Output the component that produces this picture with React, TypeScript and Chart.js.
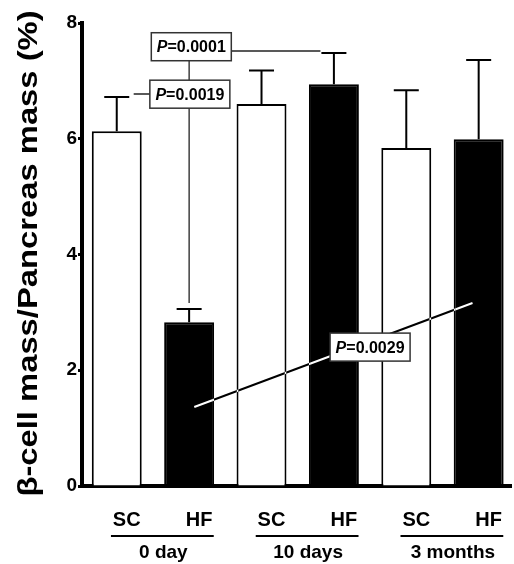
import React, { useEffect, useRef } from 'react';
import { Chart, registerables } from 'chart.js';

Chart.register(...registerables);

const groupLabels = ['0 day', '10 days', '3 months'];
const dietLabels = ['SC', 'HF', 'SC', 'HF', 'SC', 'HF'];
const massMeans = [6.13, 2.83, 6.6, 6.94, 5.84, 5.99];
const massSems = [0.59, 0.23, 0.58, 0.54, 1.0, 1.37];
const barFills = ['#ffffff', '#000000', '#ffffff', '#000000', '#ffffff', '#000000'];
const yTickValues = [0, 2, 4, 6, 8];
const yTitle = 'β-cell mass/Pancreas mass (%)';

// P-value boxes (x: bar index units, y: % units)
const pLabels = ['0.0001', '0.0019', '0.0029'];
const pBoxX = [1.03, 1.01, 3.5];
const pBoxY = [7.59, 6.77, 2.4];
// thin connector lines from boxes to bars
const linkX1 = [1.03, 1.0, 1.01];
const linkY1 = [7.516, 7.59, 6.773];
const linkX2 = [2.814, 1.0, 0.234];
const linkY2 = [7.516, 3.162, 6.773];
// trend line through the third box
const trendX = [1.071, 4.915];
const trendY = [1.365, 3.162];

const FONT = '"Liberation Sans", Arial, Helvetica, sans-serif';

const customPlugin = {
  id: 'customDraw',
  beforeDraw(chart: any) {
    const ctx = chart.ctx;
    ctx.save();
    ctx.fillStyle = '#ffffff';
    ctx.fillRect(0, 0, chart.width, chart.height);
    ctx.restore();
  },
  afterDatasetsDraw(chart: any) {
    const ctx = chart.ctx;
    const x = chart.scales.x;
    const y = chart.scales.y;
    ctx.save();
    // error bars
    ctx.strokeStyle = '#000';
    ctx.lineWidth = 2;
    massMeans.forEach((m, i) => {
      const px = x.getPixelForValue(i);
      const base = y.getPixelForValue(m);
      const top = y.getPixelForValue(m + massSems[i]);
      ctx.beginPath();
      ctx.moveTo(px, base);
      ctx.lineTo(px, top);
      ctx.moveTo(px - 12.5, top);
      ctx.lineTo(px + 12.5, top);
      ctx.stroke();
    });
    // connectors
    ctx.strokeStyle = '#222';
    ctx.lineWidth = 1.3;
    linkX1.forEach((_, i) => {
      ctx.beginPath();
      ctx.moveTo(x.getPixelForValue(linkX1[i]), y.getPixelForValue(linkY1[i]));
      ctx.lineTo(x.getPixelForValue(linkX2[i]), y.getPixelForValue(linkY2[i]));
      ctx.stroke();
    });
    // trend line (inverts over black bars)
    ctx.globalCompositeOperation = 'difference';
    ctx.strokeStyle = '#ffffff';
    ctx.lineWidth = 2;
    ctx.beginPath();
    ctx.moveTo(x.getPixelForValue(trendX[0]), y.getPixelForValue(trendY[0]));
    ctx.lineTo(x.getPixelForValue(trendX[1]), y.getPixelForValue(trendY[1]));
    ctx.stroke();
    ctx.globalCompositeOperation = 'source-over';
    // boxes
    pLabels.forEach((lab, i) => {
      const cx = x.getPixelForValue(pBoxX[i]);
      const cy = y.getPixelForValue(pBoxY[i]);
      ctx.fillStyle = '#fff';
      ctx.fillRect(cx - 40, cy - 14, 80, 28);
      ctx.strokeStyle = '#333';
      ctx.lineWidth = 1.5;
      ctx.strokeRect(cx - 40, cy - 14, 80, 28);
      ctx.fillStyle = '#000';
      ctx.textBaseline = 'middle';
      ctx.textAlign = 'left';
      ctx.font = `italic bold 16px ${FONT}`;
      const wP = ctx.measureText('P').width;
      ctx.font = `bold 16px ${FONT}`;
      const rest = '=' + lab;
      const wR = ctx.measureText(rest).width;
      const sx = cx - (wP + wR) / 2;
      ctx.font = `italic bold 16px ${FONT}`;
      ctx.fillText('P', sx, cy + 1);
      ctx.font = `bold 16px ${FONT}`;
      ctx.fillText(rest, sx + wP, cy + 1);
    });
    ctx.restore();
  },
  afterDraw(chart: any) {
    const ctx = chart.ctx;
    const x = chart.scales.x;
    const area = chart.chartArea;
    ctx.save();
    // group underlines and labels
    ctx.strokeStyle = '#000';
    ctx.lineWidth = 2;
    ctx.fillStyle = '#000';
    ctx.font = `bold 19px ${FONT}`;
    ctx.textAlign = 'center';
    ctx.textBaseline = 'middle';
    groupLabels.forEach((g, k) => {
      const xa = x.getPixelForValue(2 * k - 0.08);
      const xb = x.getPixelForValue(2 * k + 1 + 0.34);
      const ly = area.bottom + 50;
      ctx.beginPath();
      ctx.moveTo(xa, ly);
      ctx.lineTo(xb, ly);
      ctx.stroke();
      ctx.fillText(g, (xa + xb) / 2 + 1, area.bottom + 67);
    });
    // y-axis title
    ctx.font = `bold 28px ${FONT}`;
    ctx.textAlign = 'center';
    ctx.textBaseline = 'alphabetic';
    ctx.translate(37, (area.top + area.bottom) / 2 - 1);
    ctx.rotate(-Math.PI / 2);
    ctx.scale(1.17, 1);
    ctx.fillText(yTitle, 0, 0);
    ctx.restore();
  },
};

export default function App() {
  const canvasRef = useRef<HTMLCanvasElement | null>(null);

  useEffect(() => {
    if (!canvasRef.current) return;
    const chart = new Chart(canvasRef.current, {
      type: 'bar',
      data: {
        datasets: [
          {
            data: massMeans.map((v, i) => ({ x: i, y: v })),
            backgroundColor: barFills,
            borderColor: '#000',
            borderWidth: 2,
            barPercentage: 0.69,
            categoryPercentage: 1,
          },
        ],
      },
      options: {
        animation: false,
        responsive: false,
        devicePixelRatio: 1,
        layout: { padding: { top: 23, right: 0, bottom: 0, left: 0 } },
        plugins: {
          legend: { display: false },
          tooltip: { enabled: false },
          title: { display: false },
        },
        scales: {
          x: {
            type: 'linear',
            min: -0.48,
            max: 5.45,
            offset: false,
            afterBuildTicks: (s: any) => {
              s.ticks = dietLabels.map((_, i) => ({ value: i }));
            },
            afterFit: (s: any) => {
              s.height = 78;
            },
            grid: { display: true, drawOnChartArea: false, drawTicks: false },
            border: { display: true, width: 4, color: '#000' },
            ticks: {
              callback: (v: any) => dietLabels[v],
              labelOffset: 10,
              padding: 22,
              autoSkip: false,
              maxRotation: 0,
              color: '#000',
              font: { family: FONT, size: 20, weight: 'bold' },
            },
          },
          y: {
            type: 'linear',
            min: 0,
            max: 8,
            afterBuildTicks: (s: any) => {
              s.ticks = yTickValues.map((v) => ({ value: v }));
            },
            afterFit: (s: any) => {
              s.width = 82;
            },
            grid: {
              drawOnChartArea: false,
              drawTicks: true,
              tickLength: 4,
              tickWidth: 3,
              tickColor: '#000',
            },
            border: { display: true, width: 4, color: '#000' },
            ticks: {
              padding: 1,
              color: '#000',
              font: { family: FONT, size: 19, weight: 'bold' },
            },
          },
        },
      },
      plugins: [customPlugin],
    } as any);
    return () => chart.destroy();
  }, []);

  return (
    <div style={{ position: 'fixed', left: 0, top: 0, width: 514, height: 564, background: '#fff' }}>
      <canvas ref={canvasRef} width={514} height={564} />
    </div>
  );
}
